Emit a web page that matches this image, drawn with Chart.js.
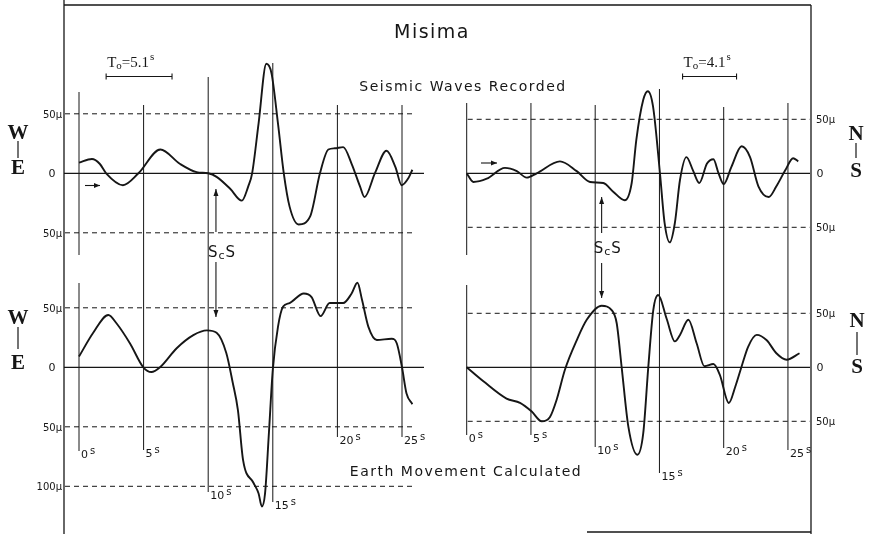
<!DOCTYPE html>
<html>
<head>
<meta charset="utf-8">
<script src="https://cdn.jsdelivr.net/npm/chart.js@4"></script>
<style>
  html, body { margin: 0; padding: 0; background: #fff; }
  #wrap { position: relative; width: 873px; height: 534px; }
</style>
</head>
<body>
<div id="wrap"><canvas id="grafica" width="873" height="534"></canvas></div>
<script>
// time marks (s) and amplitude levels (micron)
const timeTicks = [0, 5, 10, 15, 20, 25];
const refLevelsTop = [50, -50];
const refLevelsWeBottom = [50, -50, -100];
const refLevelsNsBottom = [50, -50];

// W-E, seismic waves recorded
const weRecT   = [0, 1.0, 1.6, 2.1, 3.4, 4.6, 6.3, 7.8, 9.1, 10.0, 10.65, 11.7, 12.6, 13.1, 13.4, 13.9, 14.5, 14.9, 15.4, 15.85, 16.3, 17.0, 17.9, 18.65, 19.3, 19.8, 20.45, 21.1, 21.75, 22.1, 22.9, 23.8, 24.5, 24.97, 25.5, 25.8];
const weRecAmp = [9, 12, 8, 0, -10, 0, 20, 8, 1, 0, -3, -13, -23, -11, 0, 42, 92, 84, 42, 0, -28, -43, -36, 0, 20, 21, 22, 8, -11, -20, 0, 19, 5, -10, -4, 3];

// W-E, earth movement calculated
const weCalcT   = [0, 1.1, 2.27, 2.9, 3.95, 4.98, 5.6, 6.27, 7.56, 8.85, 9.9, 10.65, 11.4, 11.9, 12.3, 12.7, 13.5, 13.9, 14.15, 14.4, 14.7, 15.0, 15.4, 15.8, 16.3, 17.4, 18.0, 18.7, 19.4, 20.45, 21.1, 21.55, 21.9, 22.4, 23.05, 24.2, 24.6, 25.0, 25.35, 25.8];
const weCalcAmp = [9, 29, 44, 37, 20, 0, -4, 0, 16, 27, 31, 29, 12, -13, -36, -78, -97, -106, -117, -106, -55, -2, 34, 51, 54, 62, 59, 43, 54, 54, 62, 71, 57, 34, 23, 24, 20, 0, -22, -31];

// N-S, seismic waves recorded
const nsRecT   = [0, 0.52, 1.56, 2.98, 3.9, 4.67, 5.45, 7.26, 8.56, 9.6, 10.63, 11.4, 12.3, 12.84, 13.2, 13.74, 14.1, 14.5, 15.04, 15.4, 15.8, 16.2, 16.6, 17.1, 17.6, 18.1, 18.7, 19.2, 19.6, 20.0, 20.6, 21.4, 22.05, 22.7, 23.5, 24.1, 24.8, 25.4, 25.8];
const nsRecAmp = [0, -8, -5, 5, 2, -4, 0, 11, 2, -8, -9, -17, -25, -9, 31, 68, 76, 62, 0, -46, -64, -46, -6, 15, 3, -9, 9, 13, 0, -10, 6, 25, 15, -12, -22, -12, 3, 14, 11];

// N-S, earth movement calculated
const nsCalcT   = [0, 1.3, 3.1, 4.15, 5.06, 5.84, 6.48, 7.0, 7.65, 8.56, 9.34, 10.5, 11.28, 11.67, 12.06, 12.58, 13.28, 13.74, 14.13, 14.52, 14.9, 15.56, 16.2, 16.6, 17.25, 17.9, 18.5, 19.2, 19.7, 20.4, 20.9, 21.4, 21.9, 22.57, 23.35, 24.1, 24.9, 25.9];
const nsCalcAmp = [0, -13, -29, -33, -41, -50, -46, -30, -2, 25, 44, 57, 53, 41, 0, -55, -81, -61, 0, 53, 67, 45, 24, 30, 44, 22, 1, 3, -7, -33, -18, 1, 19, 30, 25, 13, 7, 13];

// periods marked at the top
const periodWe = [2.1, 7.2];   // To = 5.1 s
const periodNs = [16.8, 21.0]; // To = 4.1 s
const scsTime = [10.6, 10.5];  // ScS arrival (W-E, N-S)

// ---- layout (pixels) ----
const W = 873, H = 534;
const ink = '#161616';
const lettering = '"DejaVu Sans", sans-serif';
const serif = '"Liberation Serif", serif';

function xRange(zeroPx, pxPerSec) {
  return { min: -zeroPx / pxPerSec, max: (W - zeroPx) / pxPerSec };
}
function yRange(zeroPx, pxPerMu) {
  return { min: -(H - zeroPx) / pxPerMu, max: zeroPx / pxPerMu };
}

// vertical extent (px) of each second line, per side
const gridSpansWe = [[[92, 255], [283, 451]], [[105, 450]], [[77, 492]], [[63, 502]], [[105, 437]], [[105, 437]]];
const gridSpansNs = [[[103, 255], [285, 435]], [[103, 435]], [[105, 447]], [[89, 473]], [[107, 448]], [[103, 450]]];

const toXY = (ts, vs) => ts.map((t, i) => ({ x: t, y: vs[i] }));

function line(ctx, x1, y1, x2, y2) {
  ctx.beginPath(); ctx.moveTo(x1, y1); ctx.lineTo(x2, y2); ctx.stroke();
}
function text(ctx, s, x, y, size, align, family) {
  ctx.font = size + 'px ' + (family || lettering);
  ctx.textAlign = align || 'left';
  ctx.fillText(s, x, y);
  return ctx.measureText(s).width;
}
function arrowV(ctx, x, y1, y2) {
  line(ctx, x, y1, x, y2);
  const d = y2 > y1 ? -1 : 1;
  ctx.beginPath();
  ctx.moveTo(x, y2); ctx.lineTo(x - 2.5, y2 + d * 7); ctx.lineTo(x + 2.5, y2 + d * 7);
  ctx.closePath(); ctx.fill();
}
function arrowH(ctx, x1, x2, y) {
  line(ctx, x1, y, x2, y);
  ctx.beginPath();
  ctx.moveTo(x2, y); ctx.lineTo(x2 - 6, y - 2.5); ctx.lineTo(x2 - 6, y + 2.5);
  ctx.closePath(); ctx.fill();
}
function periodBar(ctx, xs, t1, t2, y, label) {
  const a = xs.getPixelForValue(t1), b = xs.getPixelForValue(t2);
  line(ctx, a, y, b, y);
  line(ctx, a, y - 3, a, y + 3);
  line(ctx, b, y - 3, b, y + 3);
  let x = a + 1;
  x += text(ctx, 'T', x, y - 10, 15, 'left', serif);
  x += text(ctx, 'o', x, y - 8, 11, 'left', serif);
  x += text(ctx, '=' + label, x, y - 10, 15, 'left', serif);
  text(ctx, 's', x + 1, y - 17, 11, 'left', serif);
}
function scsLabel(ctx, x, y) {
  let p = x;
  p += text(ctx, 'S', p, y, 15);
  p += text(ctx, 'c', p + 1, y + 2, 11) + 2;
  text(ctx, 'S', p, y, 15);
}
function compass(ctx, a, b, x, yA, yBar1, yBar2, yB) {
  ctx.font = 'bold 21px ' + serif;
  ctx.textAlign = 'center';
  ctx.fillText(a, x, yA);
  ctx.fillText(b, x, yB);
  ctx.lineWidth = 1.2;
  line(ctx, x, yBar1, x, yBar2);
}

const sidesPlugin = {
  id: 'seismogramFrame',
  beforeDatasetsDraw(chart) {
    const ctx = chart.ctx, s = chart.scales;
    ctx.save();
    ctx.strokeStyle = ink; ctx.fillStyle = ink;
    ctx.textBaseline = 'alphabetic';

    // frame
    ctx.lineWidth = 1.3;
    line(ctx, 64, 5, 811, 5);
    line(ctx, 64, 0, 64, H);
    line(ctx, 811, 5, 811, H);
    line(ctx, 587, 532, 811, 532);

    const sides = [
      { xs: s.xL, top: s.yLT, bot: s.yLB, spans: gridSpansWe, botLevels: refLevelsWeBottom, to: 424, dashTo: 412 },
      { xs: s.xR, top: s.yRT, bot: s.yRB, spans: gridSpansNs, botLevels: refLevelsNsBottom, to: 810, dashTo: 810 }
    ];

    sides.forEach((sd, k) => {
      const xFrom = k === 0 ? 64 : sd.xs.getPixelForValue(0);
      // zero lines
      ctx.lineWidth = 1.3; ctx.setLineDash([]);
      line(ctx, xFrom, sd.top.getPixelForValue(0), sd.to, sd.top.getPixelForValue(0));
      line(ctx, xFrom, sd.bot.getPixelForValue(0), sd.to, sd.bot.getPixelForValue(0));
      // dashed levels
      ctx.lineWidth = 1; ctx.setLineDash([5, 4]);
      refLevelsTop.forEach(v => line(ctx, xFrom + 1, sd.top.getPixelForValue(v), sd.dashTo, sd.top.getPixelForValue(v)));
      sd.botLevels.forEach(v => line(ctx, xFrom + 1, sd.bot.getPixelForValue(v), sd.dashTo, sd.bot.getPixelForValue(v)));
      ctx.setLineDash([]);
      // second lines and their labels
      ctx.lineWidth = 1;
      timeTicks.forEach((t, i) => {
        const x = sd.xs.getPixelForValue(t);
        sd.spans[i].forEach(([y1, y2]) => line(ctx, x, y1, x, y2));
        const yEnd = sd.spans[i][sd.spans[i].length - 1][1];
        const w = text(ctx, String(t), x + 2, yEnd + 7, 11);
        text(ctx, 's', x + 4 + w, yEnd + 3, 10);
      });
      // amplitude labels
      const lab = (v, axis) => {
        const y = axis.getPixelForValue(v) + 4;
        const str = v === 0 ? '0' : Math.abs(v) + 'μ';
        if (k === 0) text(ctx, str, v === 0 ? 52 : 62, y, v === 0 ? 11 : 10, v === 0 ? 'center' : 'right');
        else text(ctx, str, v === 0 ? 820 : 816, y, v === 0 ? 11 : 10, v === 0 ? 'center' : 'left');
      };
      refLevelsTop.concat([0]).forEach(v => lab(v, sd.top));
      sd.botLevels.concat([0]).forEach(v => lab(v, sd.bot));
    });

    // periods
    ctx.lineWidth = 1.1;
    periodBar(ctx, s.xL, periodWe[0], periodWe[1], 76.5, '5.1');
    periodBar(ctx, s.xR, periodNs[0], periodNs[1], 76.5, '4.1');

    // ScS markers
    const xa = s.xL.getPixelForValue(scsTime[0]);
    arrowV(ctx, xa, 232, 189);
    arrowV(ctx, xa, 262, 317);
    scsLabel(ctx, xa - 8, 257);
    const xb = s.xR.getPixelForValue(scsTime[1]);
    arrowV(ctx, xb, 233, 197);
    arrowV(ctx, xb, 263, 298);
    scsLabel(ctx, xb - 8, 253);

    // small start arrows
    arrowH(ctx, 85, 100, 185.5);
    arrowH(ctx, 481, 497, 163);

    // titles
    ctx.textBaseline = 'middle';
    ctx.save(); ctx.letterSpacing = '1.5px';
    text(ctx, 'Misima', 432, 33, 19, 'center');
    text(ctx, 'Seismic Waves Recorded', 463, 87, 14, 'center');
    text(ctx, 'Earth Movement Calculated', 466, 472, 14, 'center');
    ctx.restore();
    ctx.textBaseline = 'alphabetic';

    compass(ctx, 'W', 'E', 18, 139, 141, 158, 174);
    compass(ctx, 'W', 'E', 18, 324, 327, 349, 369);
    compass(ctx, 'N', 'S', 856, 140, 143, 158, 177);
    compass(ctx, 'N', 'S', 857, 327, 332, 355, 373);

    ctx.restore();
  }
};

const trace = (label, data, xAxisID, yAxisID) => ({
  label, data, xAxisID, yAxisID,
  borderColor: ink, borderWidth: 1.9,
  pointRadius: 0, fill: false,
  cubicInterpolationMode: 'monotone', clip: false
});

const graph = document.querySelector('#grafica');

new Chart(graph, {
  type: 'line',
  data: {
    datasets: [
      trace('W-E recorded', toXY(weRecT, weRecAmp), 'xL', 'yLT'),
      trace('W-E calculated', toXY(weCalcT, weCalcAmp), 'xL', 'yLB'),
      trace('N-S recorded', toXY(nsRecT, nsRecAmp), 'xR', 'yRT'),
      trace('N-S calculated', toXY(nsCalcT, nsCalcAmp), 'xR', 'yRB')
    ]
  },
  options: {
    responsive: false,
    animation: false,
    layout: { padding: 0, autoPadding: false },
    plugins: { legend: { display: false }, tooltip: { enabled: false } },
    scales: {
      xL: { type: 'linear', display: false, ...xRange(79, 12.92) },
      xR: { type: 'linear', display: false, ...xRange(466.7, 12.85) },
      yLT: { type: 'linear', display: false, ...yRange(173.3, 1.19) },
      yLB: { type: 'linear', display: false, ...yRange(367.3, 1.19) },
      yRT: { type: 'linear', display: false, ...yRange(173.3, 1.08) },
      yRB: { type: 'linear', display: false, ...yRange(367.3, 1.08) }
    }
  },
  plugins: [sidesPlugin]
});
</script>
</body>
</html>
